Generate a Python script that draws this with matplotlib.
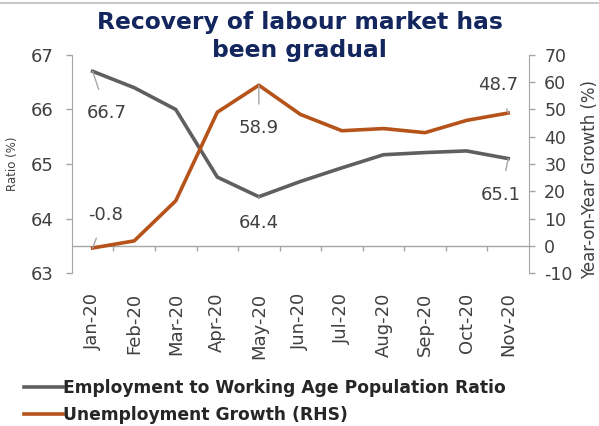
import matplotlib
matplotlib.use("Agg")
import matplotlib.pyplot as plt
from matplotlib.lines import Line2D
import numpy as np

plt.rcParams["font.family"] = ["Verdana", "DejaVu Sans"]
plt.rcParams["axes.unicode_minus"] = False

months = ["Jan-20", "Feb-20", "Mar-20", "Apr-20", "May-20", "Jun-20",
          "Jul-20", "Aug-20", "Sep-20", "Oct-20", "Nov-20"]
emp_ratio = [66.7, 66.4, 66.0, 64.76, 64.4, 64.68, 64.93, 65.17, 65.21, 65.24, 65.1]
unemp_growth = [-0.8, 1.8, 16.5, 49.0, 58.9, 48.2, 42.2, 43.0, 41.5, 46.0, 48.7]

GREY = "#5f5f5f"
ORANGE = "#b5531a"
AXIS = "#a6a6a6"
TEXT = "#404040"
NAVY = "#13275e"

fig = plt.figure(figsize=(5.99, 4.26), dpi=100)
ax = fig.add_axes([0.120, 0.359, 0.763, 0.512])
ax2 = ax.twinx()

x = np.arange(len(months))
ax.plot(x, emp_ratio, color=GREY, lw=2.6, solid_joinstyle="round", zorder=3)
ax2.plot(x, unemp_growth, color=ORANGE, lw=2.6, solid_joinstyle="round", zorder=3)

ax.set_xlim(-0.5, len(months) - 0.5)
ax.set_ylim(63, 67)
ax.set_yticks([63, 64, 65, 66, 67])
ax2.set_ylim(-10, 70)
ax2.set_yticks(range(-10, 71, 10))

# category axis sits on the RHS zero line
ax2.axhline(0, color=AXIS, lw=1.0, zorder=1)
ax2.vlines(np.arange(0.5, len(months) - 1, 1), -1.8, 0, color=AXIS, lw=1.0)

for a in (ax, ax2):
    a.spines["top"].set_visible(False)
    a.spines["bottom"].set_visible(False)
    a.set_facecolor("none")
ax.spines["right"].set_visible(False)
ax.spines["left"].set_color(AXIS)
ax2.spines["left"].set_visible(False)
ax2.spines["right"].set_color(AXIS)

ax.set_xticks(x)
ax.set_xticklabels(months, rotation=90, fontsize=13, color=TEXT)
ax.tick_params(axis="x", length=0, pad=14)
ax.tick_params(axis="y", colors=AXIS, labelcolor=TEXT, labelsize=13,
               length=4, width=1, pad=9)
ax2.tick_params(axis="y", colors=AXIS, labelcolor=TEXT, labelsize=12.5,
                length=4, width=1, pad=7)

ax.set_ylabel("Ratio (%)", fontsize=8.5, color=TEXT)
ax.yaxis.set_label_coords(-0.115, 0.5)
ax2.set_ylabel("Year-on-Year Growth (%)", fontsize=12, color=TEXT)
ax2.yaxis.set_label_coords(1.114, 0.43)

# value callouts with leader lines
def callout(axis, i, vals, text_xy):
    axis.annotate(f"{vals[i]:.1f}", xy=(x[i], vals[i]), xytext=text_xy,
                  textcoords="offset points", fontsize=13, color=TEXT,
                  ha="center", va="center",
                  arrowprops=dict(arrowstyle="-", color=AXIS, lw=1.0,
                                  shrinkA=9, shrinkB=0))

callout(ax, 0, emp_ratio, (10, -30))
callout(ax, 4, emp_ratio, (0, -19))
callout(ax, 10, emp_ratio, (-5, -26))
callout(ax2, 0, unemp_growth, (9, 24))
callout(ax2, 4, unemp_growth, (0, -31))
callout(ax2, 10, unemp_growth, (-7, 20))

fig.text(0.5, 1 - 22 / 426, "Recovery of labour market has",
         ha="center", va="center", fontsize=16.8, fontweight="bold", color=NAVY)
fig.text(0.5, 1 - 50 / 426, "been gradual",
         ha="center", va="center", fontsize=16.8, fontweight="bold", color=NAVY)

# thin rule along the top edge
fig.add_artist(Line2D([0, 1], [0.993, 0.993], transform=fig.transFigure,
                      color="#c8c8c8", lw=1.5))

handles = [Line2D([], [], color=GREY, lw=2.6),
           Line2D([], [], color=ORANGE, lw=2.6)]
fig.legend(handles, ["Employment to Working Age Population Ratio",
                     "Unemployment Growth (RHS)"],
           loc="upper left", bbox_to_anchor=(0.025, 0.131),
           bbox_transform=fig.transFigure, frameon=False,
           prop={"weight": "bold", "size": 12.3}, handlelength=2.3,
           handletextpad=0.0, labelspacing=0.55, borderpad=0,
           labelcolor="#262626")

fig.savefig("out.png", dpi=100)
